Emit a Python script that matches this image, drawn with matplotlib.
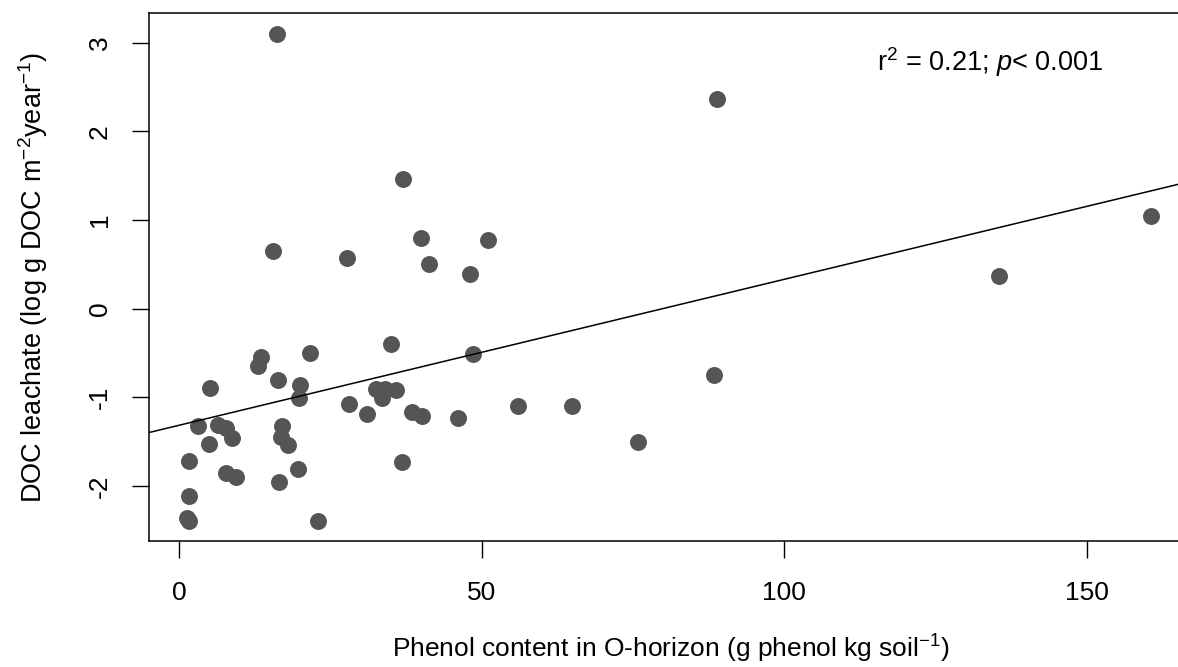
import matplotlib
matplotlib.use('Agg')
import matplotlib.pyplot as plt

plt.rcParams['font.family'] = ['Liberation Sans', 'DejaVu Sans']
plt.rcParams['mathtext.fontset'] = 'custom'
plt.rcParams['mathtext.rm'] = 'Liberation Sans'
plt.rcParams['mathtext.it'] = 'Liberation Sans:italic'

# phenol content (g phenol / kg soil) and DOC leachate (log g DOC m-2 year-1)
phenol = [16.2, 88.9, 37.0, 40.0, 51.0, 15.5, 27.7, 41.3, 48.1, 160.7,
          135.5, 35.0, 21.6, 48.6, 13.5, 13.1, 16.3, 5.2, 20.0, 19.9,
          88.4, 32.5, 34.0, 35.9, 33.6, 28.1, 31.1, 38.5, 40.1, 46.1,
          56.1, 65.0, 75.8, 3.1, 6.4, 7.7, 8.8, 5.0, 17.0, 16.9,
          18.0, 1.6, 36.8, 7.8, 9.5, 19.7, 16.5, 1.6, 1.4, 1.7, 23.0]
doc = [3.10, 2.36, 1.46, 0.80, 0.78, 0.65, 0.57, 0.50, 0.39, 1.045,
       0.37, -0.40, -0.50, -0.51, -0.54, -0.65, -0.80, -0.89, -0.86, -1.01,
       -0.75, -0.91, -0.90, -0.92, -1.01, -1.07, -1.19, -1.17, -1.21, -1.23,
       -1.10, -1.10, -1.50, -1.32, -1.31, -1.35, -1.46, -1.53, -1.32, -1.45,
       -1.54, -1.72, -1.73, -1.85, -1.90, -1.81, -1.95, -2.11, -2.36, -2.39, -2.40]

# fitted regression line
intercept = -1.315
slope = 0.01646

xticks = [0, 50, 100, 150]
yticks = [-2, -1, 0, 1, 2, 3]

fig = plt.figure(figsize=(11.78, 6.67), dpi=100)
ax = fig.add_axes([0.1269, 0.1889, 0.885, 0.7916])

ax.plot(phenol, doc, 'o', color='#555555', markersize=12.2, markeredgewidth=0)
ax.axline((0, intercept), slope=slope, color='black', linewidth=1.1)

ax.set_xlim(-4.87, 167.4)
ax.set_ylim(-2.62, 3.335)
ax.set_xticks(xticks)
ax.set_yticks(yticks)
ax.set_yticklabels([str(v) for v in yticks], rotation=90, va='center')

for s in ax.spines.values():
    s.set_linewidth(1.1)
ax.tick_params(axis='both', length=12, width=1, labelsize=19)
ax.tick_params(axis='x', pad=17)
ax.tick_params(axis='y', pad=15)

ax.set_xlabel('Phenol content in O-horizon (g phenol kg soil$^{-1}$)', fontsize=19, labelpad=20)
ax.set_ylabel('DOC leachate (log g DOC m$^{-2}$year$^{-1}$)', fontsize=19.5, labelpad=27)

ax.text(134.1, 2.78, r'r$^2$ = 0.21; $p$< 0.001', fontsize=19.5, ha='center', va='center')

fig.savefig('out.png', dpi=100)
